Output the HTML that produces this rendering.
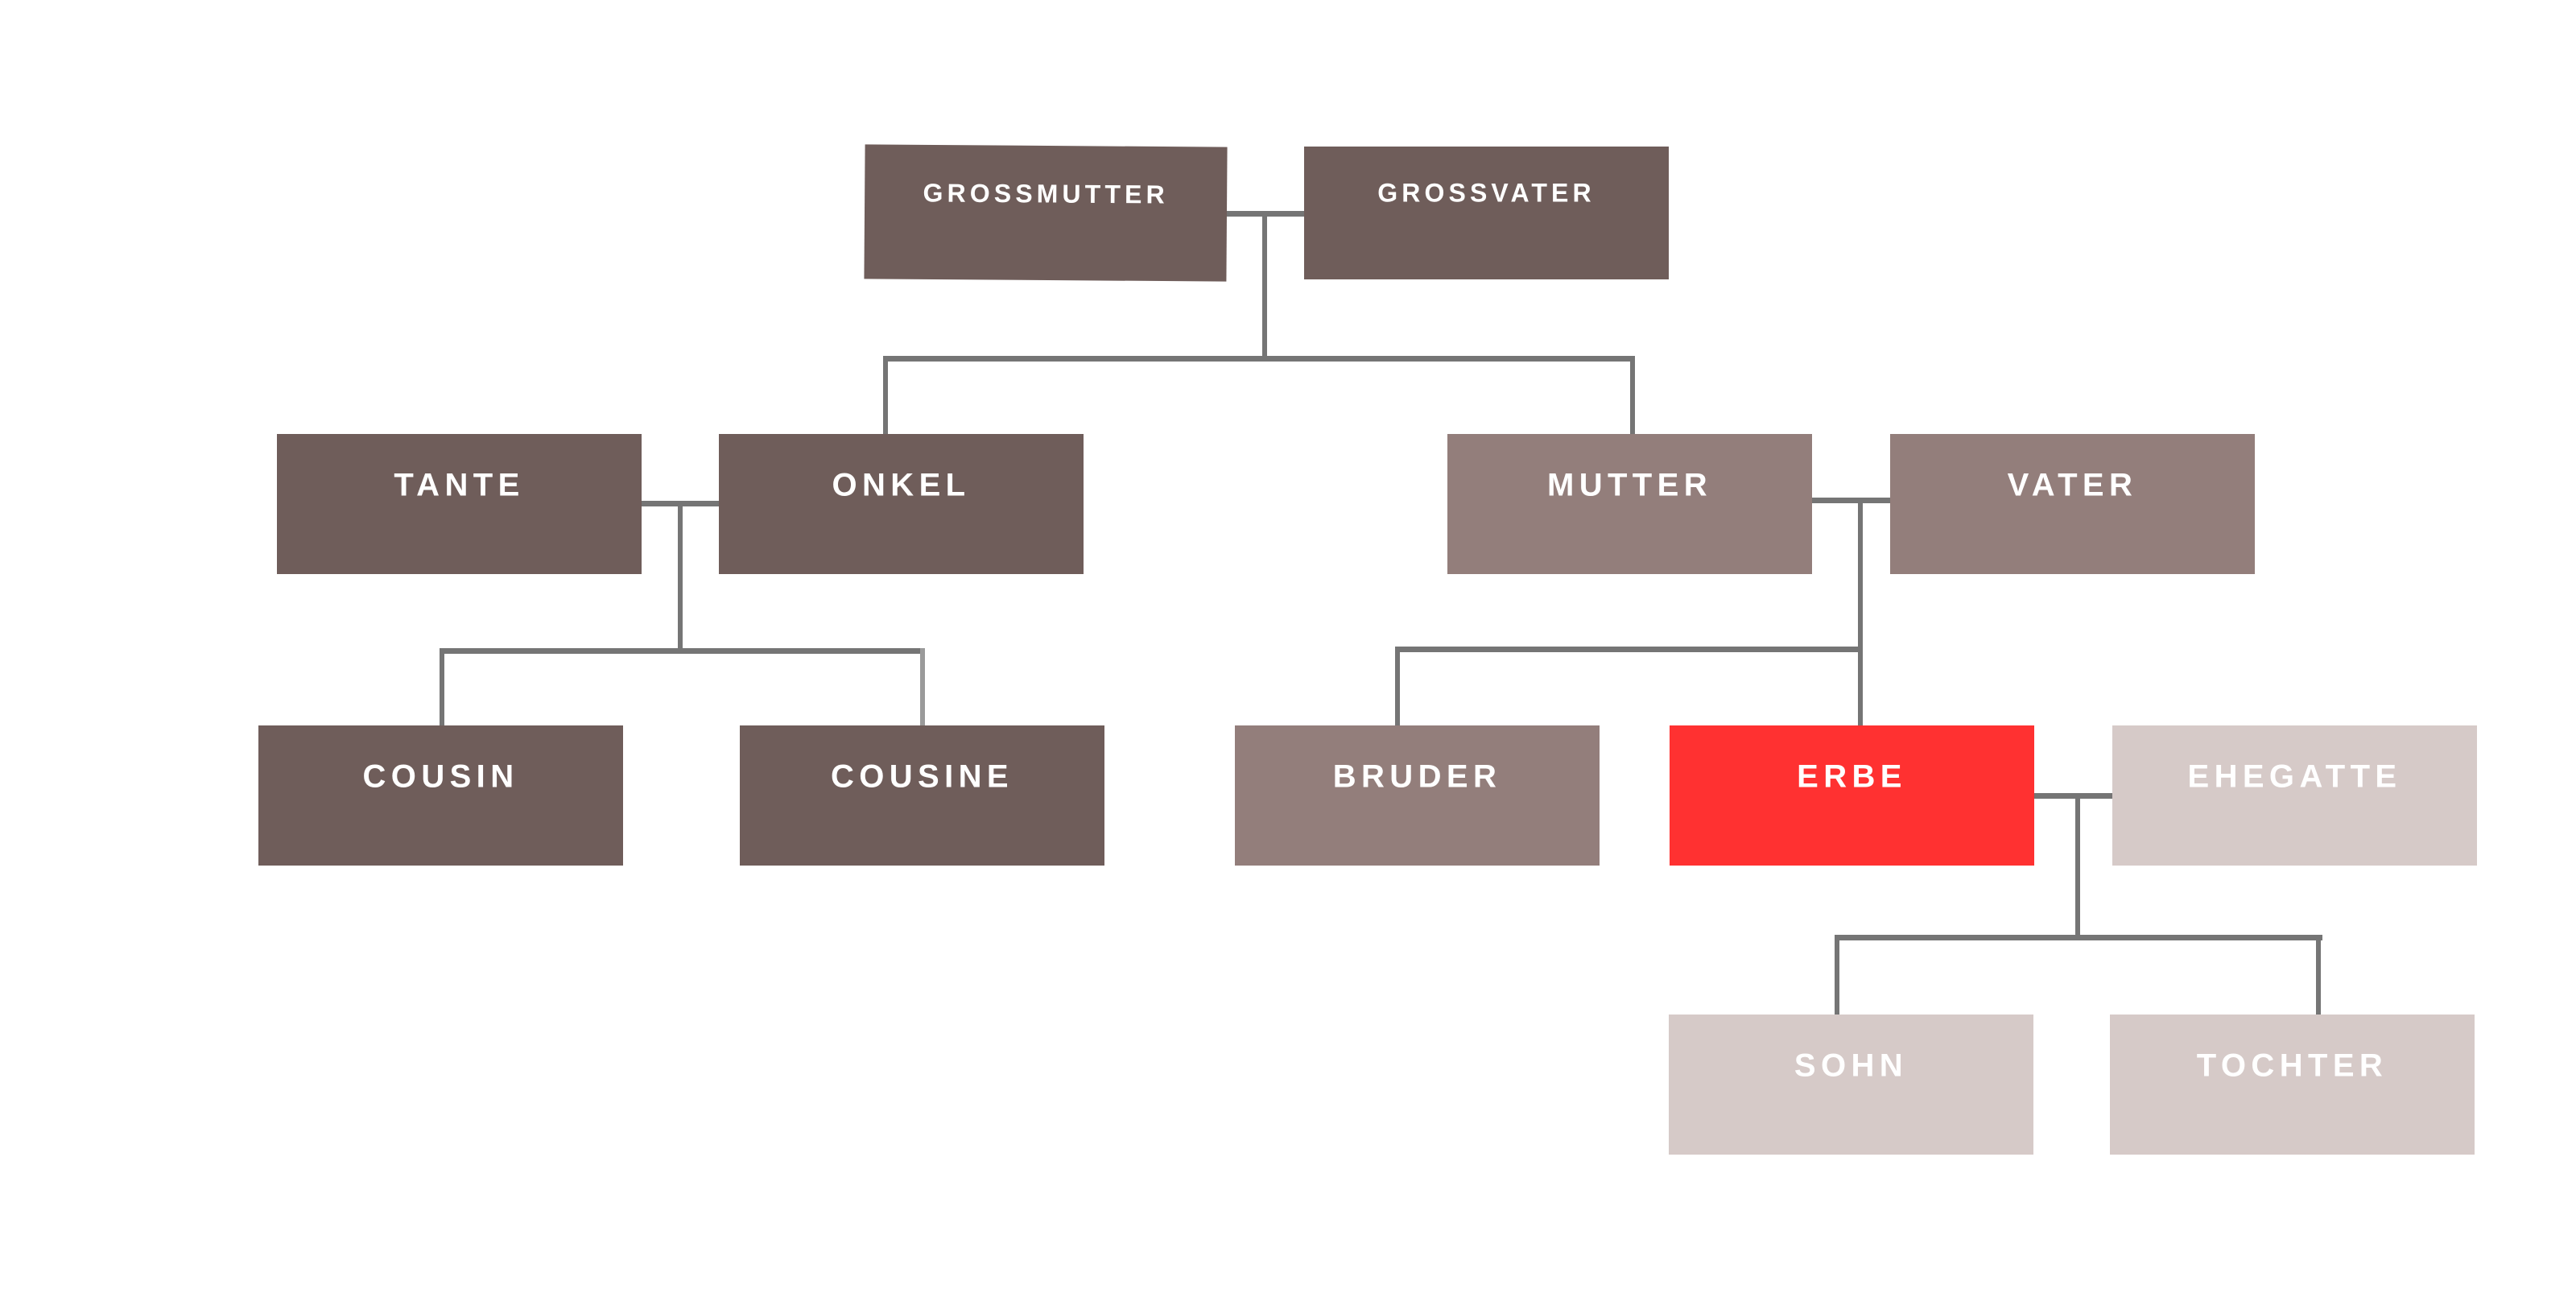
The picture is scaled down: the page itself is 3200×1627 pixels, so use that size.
<!DOCTYPE html>
<html><head><meta charset="utf-8"><style>
body{margin:0;width:3200px;height:1627px;background:#fff;position:relative;overflow:hidden;font-family:"Liberation Sans",sans-serif}
.b{position:absolute;color:#fff;font-weight:bold;text-align:center;letter-spacing:0.16em}
.b span{position:absolute;left:0;right:0;transform:translateY(-50%)}
.d{background:#6f5d5a}.m{background:#937e7b}.l{background:#d6cac8}.r{background:#ff3131}
.ln{position:absolute;background:#757575}
</style></head><body>
<div class="ln" style="left:1520px;top:262px;width:102px;height:7px"></div>
<div class="ln" style="left:1568px;top:262px;width:6px;height:186px"></div>
<div class="ln" style="left:1097px;top:442px;width:934px;height:7px"></div>
<div class="ln" style="left:1097px;top:442px;width:6px;height:98px"></div>
<div class="ln" style="left:2025px;top:442px;width:6px;height:98px"></div>

<div class="ln" style="left:796px;top:622px;width:100px;height:7px"></div>
<div class="ln" style="left:842px;top:622px;width:6px;height:188px"></div>
<div class="ln" style="left:546px;top:805px;width:603px;height:7px"></div>
<div class="ln" style="left:546px;top:805px;width:6px;height:100px"></div>
<div class="ln" style="left:1143px;top:805px;width:6px;height:100px;background:#9a9a9a"></div>

<div class="ln" style="left:2250px;top:618px;width:100px;height:7px"></div>
<div class="ln" style="left:2308px;top:618px;width:6px;height:285px"></div>
<div class="ln" style="left:1733px;top:803px;width:578px;height:7px"></div>
<div class="ln" style="left:1733px;top:803px;width:6px;height:100px"></div>

<div class="ln" style="left:2527px;top:985px;width:102px;height:7px"></div>
<div class="ln" style="left:2578px;top:985px;width:6px;height:182px"></div>
<div class="ln" style="left:2279px;top:1161px;width:606px;height:7px"></div>
<div class="ln" style="left:2279px;top:1161px;width:6px;height:100px"></div>
<div class="ln" style="left:2877px;top:1161px;width:6px;height:100px"></div>

<div class="b d" style="left:1074px;top:181px;width:450px;height:167px;font-size:32px;transform:rotate(0.4deg)"><span style="top:60px">GROSSMUTTER</span></div>
<div class="b d" style="left:1620px;top:182px;width:453px;height:165px;font-size:32px"><span style="top:58px">GROSSVATER</span></div>

<div class="b d" style="left:344px;top:539px;width:453px;height:174px;font-size:40px"><span style="top:64px">TANTE</span></div>
<div class="b d" style="left:893px;top:539px;width:453px;height:174px;font-size:40px"><span style="top:64px">ONKEL</span></div>
<div class="b m" style="left:1798px;top:539px;width:453px;height:174px;font-size:40px"><span style="top:64px">MUTTER</span></div>
<div class="b m" style="left:2348px;top:539px;width:453px;height:174px;font-size:40px"><span style="top:64px">VATER</span></div>

<div class="b d" style="left:321px;top:901px;width:453px;height:174px;font-size:40px"><span style="top:64px">COUSIN</span></div>
<div class="b d" style="left:919px;top:901px;width:453px;height:174px;font-size:40px"><span style="top:64px">COUSINE</span></div>
<div class="b m" style="left:1534px;top:901px;width:453px;height:174px;font-size:40px"><span style="top:64px">BRUDER</span></div>
<div class="b r" style="left:2074px;top:901px;width:453px;height:174px;font-size:40px"><span style="top:64px">ERBE</span></div>
<div class="b l" style="left:2624px;top:901px;width:453px;height:174px;font-size:40px"><span style="top:64px">EHEGATTE</span></div>

<div class="b l" style="left:2073px;top:1260px;width:453px;height:174px;font-size:40px"><span style="top:64px">SOHN</span></div>
<div class="b l" style="left:2621px;top:1260px;width:453px;height:174px;font-size:40px"><span style="top:64px">TOCHTER</span></div>
</body></html>
